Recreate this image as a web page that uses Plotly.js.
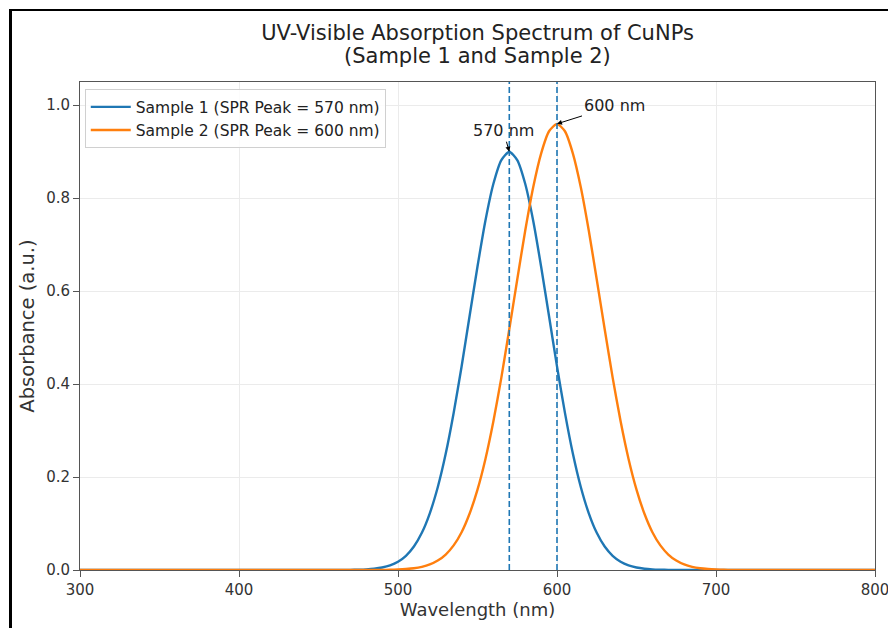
<!DOCTYPE html>
<html>
<head>
<meta charset="utf-8">
<script src="https://cdn.plot.ly/plotly-3.0.1.min.js"></script>
<style>
  html, body { margin: 0; padding: 0; background: #fff; width: 888px; height: 628px; overflow: hidden; }
  #frame { position: absolute; left: 9px; top: 9px; width: 879px; height: 619px;
           border-top: 2px solid #000; border-left: 3px solid #000; box-sizing: border-box; }
  #clip { position: absolute; left: 0; top: 0; width: 888px; height: 9px; overflow: hidden; }
  #clip span { position: absolute; top: -33px; font-family: 'Liberation Serif', serif; font-size: 28px; line-height: 32px; color: #000; }
  #chart { position: absolute; left: 0; top: 0; width: 888px; height: 628px; }
</style>
</head>
<body>
<div id="clip"><span style="left:66px">p</span><span style="left:230px">y</span></div>
<div id="frame"></div>
<div id="chart"></div>
<script>
// Wavelength (nm)
const wavelength = [300,
  450, 455, 460, 465, 470, 475, 480, 485, 490, 495,
  500, 505, 510, 515, 520, 525, 530, 535, 540, 545,
  550, 555, 560, 565, 570, 575, 580, 585, 590, 595,
  600, 605, 610, 615, 620, 625, 630, 635, 640, 645,
  650, 655, 660, 665, 670, 675, 680, 685, 690, 695,
  700, 705, 710, 715, 720,
  800];

// Sample 1 absorbance (peak 570 nm)
const sample1 = [0,
  0, 0, 0.0001, 0.0001, 0.0003, 0.0007, 0.0014, 0.0028, 0.0054, 0.0100,
  0.0179, 0.0306, 0.0505, 0.080, 0.122, 0.178, 0.250, 0.338, 0.438, 0.546,
  0.653, 0.752, 0.831, 0.882, 0.900, 0.882, 0.831, 0.752, 0.653, 0.546,
  0.438, 0.338, 0.250, 0.178, 0.122, 0.080, 0.0505, 0.0306, 0.0179, 0.0100,
  0.0054, 0.0028, 0.0014, 0.0007, 0.0003, 0.0001, 0.0001, 0, 0, 0,
  0, 0, 0, 0, 0,
  0];

// Sample 2 absorbance (peak 600 nm)
const sample2 = [0,
  0, 0, 0, 0, 0, 0, 0, 0.0001, 0.0002, 0.0005,
  0.0010, 0.0020, 0.0037, 0.0068, 0.0119, 0.0203, 0.0333, 0.0529, 0.0813, 0.121,
  0.173, 0.239, 0.320, 0.414, 0.518, 0.625, 0.730, 0.823, 0.896, 0.944,
  0.960, 0.944, 0.896, 0.823, 0.730, 0.625, 0.518, 0.414, 0.320, 0.239,
  0.173, 0.121, 0.0813, 0.0529, 0.0333, 0.0203, 0.0119, 0.0068, 0.0037, 0.0020,
  0.0010, 0.0005, 0.0002, 0.0001, 0,
  0];

const titleLines = ['UV-Visible Absorption Spectrum of CuNPs', '(Sample 1 and Sample 2)'];
const seriesNames = ['Sample 1 (SPR Peak = 570 nm)', 'Sample 2 (SPR Peak = 600 nm)'];
const peakWavelengths = [570, 600];
const peakValues = [0.90, 0.96];
const peakLabels = ['570 nm', '600 nm'];
const xTicks = [300, 400, 500, 600, 700, 800];
const yTicks = [0.0, 0.2, 0.4, 0.6, 0.8, 1.0];

const colors = ['#1f77b4', '#ff7f0e'];
const FONT = 'DejaVu Sans, sans-serif';

const traces = [sample1, sample2].map((ys, i) => ({
  x: wavelength, y: ys, type: 'scatter', mode: 'lines',
  name: seriesNames[i],
  line: { color: colors[i], width: 2.4, shape: 'spline', smoothing: 0.6 }
}));

const shapes = peakWavelengths.map(p => ({
  type: 'line', xref: 'x', yref: 'paper', x0: p, x1: p, y0: 0, y1: 1,
  line: { color: '#1f77b4', width: 1.6, dash: '6px,3px' }, layer: 'above'
}));

const annOffsets = [[-6, -21], [57, -18]];
const annotations = peakWavelengths.map((p, i) => ({
  x: p, y: peakValues[i], xref: 'x', yref: 'y',
  text: peakLabels[i], showarrow: true,
  ax: annOffsets[i][0], ay: annOffsets[i][1],
  arrowhead: 2, arrowsize: 1, arrowwidth: 1, arrowcolor: '#000',
  font: { family: FONT, size: 16, color: '#222' }
}));
// second title line
annotations.push({
  xref: 'paper', yref: 'paper', x: 0.5, y: 1.053, xanchor: 'center', yanchor: 'middle',
  text: titleLines[1], showarrow: false,
  font: { family: FONT, size: 21, color: '#222' }
});

const axisCommon = {
  showline: true, mirror: true, linecolor: '#555', linewidth: 1,
  ticks: 'outside', ticklen: 6, tickcolor: '#555', tickwidth: 1,
  showgrid: true, gridcolor: '#ebebeb', gridwidth: 1, zeroline: false,
  tickfont: { family: FONT, size: 15, color: '#333' }
};

const layout = {
  width: 888, height: 628,
  margin: { l: 80, r: 13, t: 82, b: 58 },
  paper_bgcolor: 'rgba(0,0,0,0)', plot_bgcolor: '#fff',
  showlegend: true,
  title: {
    text: titleLines[0],
    font: { family: FONT, size: 21, color: '#222' },
    x: 0.5, xref: 'paper', xanchor: 'center',
    y: 1 - 33 / 628, yref: 'container', yanchor: 'middle'
  },
  xaxis: Object.assign({}, axisCommon, {
    range: [300, 800], tickvals: xTicks, ticktext: xTicks.map(String),
    ticklabeloverflow: 'allow',
    title: { text: 'Wavelength (nm)', font: { family: FONT, size: 18, color: '#333' }, standoff: 2 }
  }),
  yaxis: Object.assign({}, axisCommon, {
    range: [0, 1.05], tickvals: yTicks, ticktext: yTicks.map(v => v.toFixed(1)),
    title: { text: 'Absorbance (a.u.)', font: { family: FONT, size: 19.5, color: '#333' }, standoff: 6 }
  }),
  legend: {
    x: 0.006, y: 0.985, xanchor: 'left', yanchor: 'top',
    bgcolor: 'rgba(255,255,255,0.85)', bordercolor: '#d0d0d0', borderwidth: 1,
    font: { family: FONT, size: 15.5, color: '#222' },
    itemwidth: 40, tracegroupgap: 2
  },
  shapes: shapes,
  annotations: annotations
};

Plotly.newPlot('chart', traces, layout, { displayModeBar: false, staticPlot: true });
</script>
</body>
</html>
